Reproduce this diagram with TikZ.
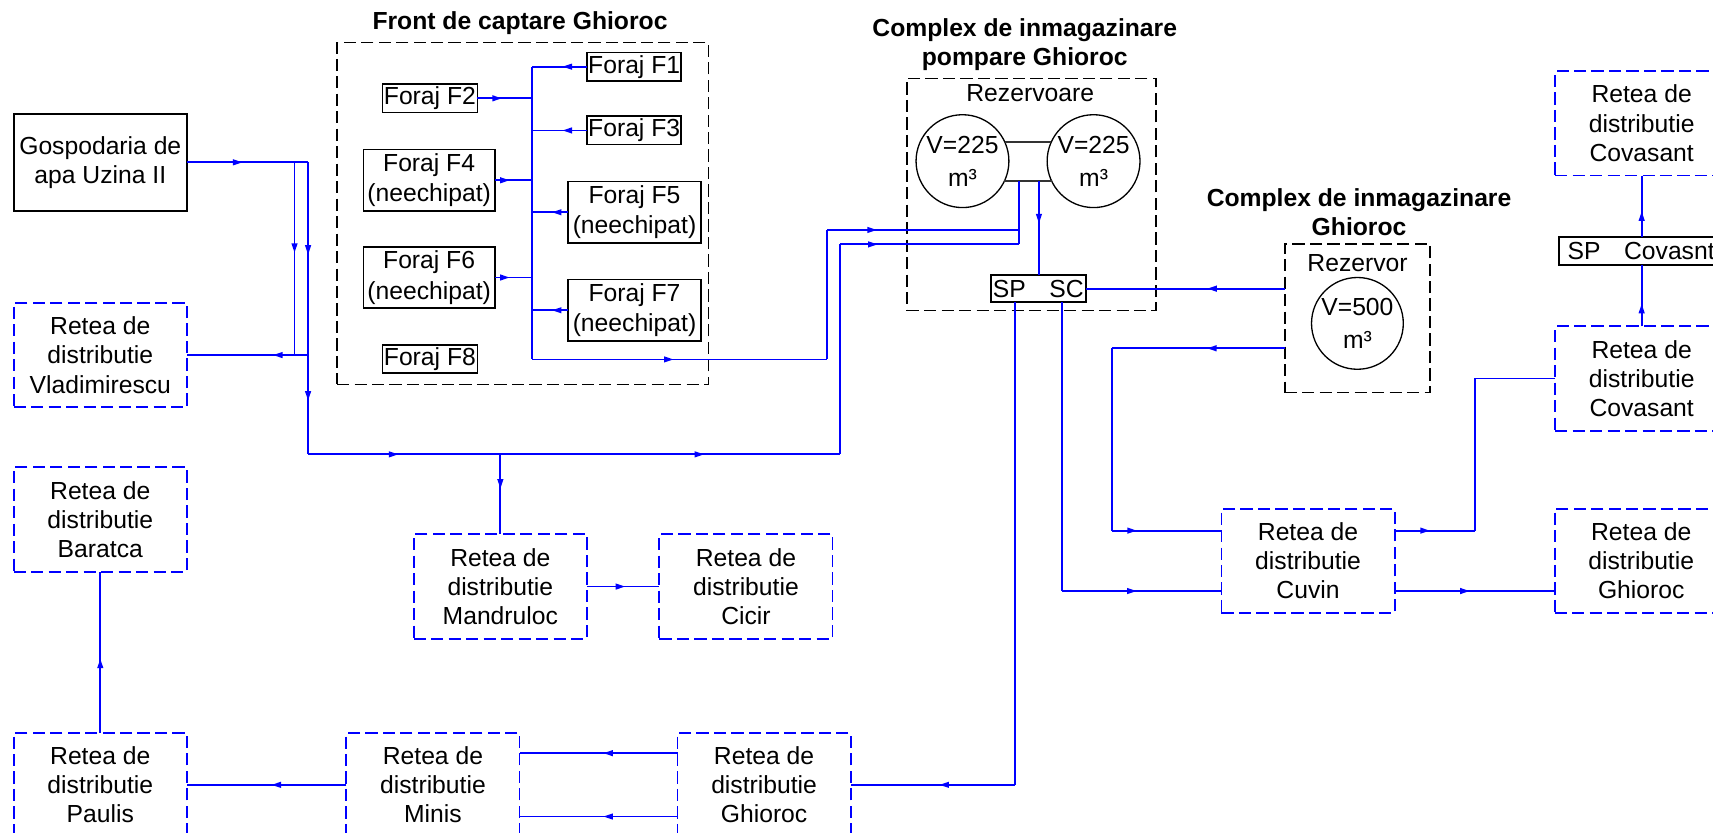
\documentclass[tikz,border=0pt]{standalone}
\usepackage{fontspec}
\setmainfont{Liberation Sans}
\usetikzlibrary{arrows.meta,decorations.markings,calc}
\newcommand\myfs{\fontsize{11.3pt}{13.4pt}\selectfont}
\begin{document}
\begin{tikzpicture}[x=0.5pt,y=-0.5pt,
  every node/.style={font=\myfs, inner sep=0pt, outer sep=0pt, align=center},
  flow/.style={draw=blue, line width=0.85pt},
  ar/.style={postaction={decorate, decoration={markings, mark=at position #1 with {\arrow[blue]{Triangle[length=4.4pt,width=2.6pt]}}}}},
  net/.style={draw=blue, line width=0.85pt, dash pattern=on 5.6pt off 2.4pt, minimum width=79.25pt, minimum height=47.75pt},
  grp/.style={draw=black, line width=0.7pt, dash pattern=on 5.6pt off 2.4pt},
  fb/.style={draw=black, line width=0.75pt, font=\fontsize{11.3pt}{14pt}\selectfont},
  tank/.style={circle, draw=black, line width=0.6pt, font=\fontsize{11.3pt}{15pt}\selectfont},
  pipe/.style={draw=black!80, line width=0.9pt},
  ttl/.style={font=\fontsize{11.3pt}{13.4pt}\selectfont\bfseries}
]
\path[use as bounding box] (0,0) rectangle (1568,762);
\clip (0,0) rectangle (1568,762);

% titles
\node[ttl] (tfront) at (476,21.4) {Front de captare Ghioroc};
\node[ttl] (tcp) at (938,41) {Complex de inmagazinare\\pompare Ghioroc};
\node[ttl] (tcg) at (1244,194) {Complex de inmagazinare\\Ghioroc};

% group boxes
\node[grp, minimum width=170.1pt, minimum height=156.4pt] (front) at (478.6,195.4) {};
\node[grp, minimum width=114pt, minimum height=106.15pt] (cpomp) at (944,177.85) {};
\node[grp, minimum width=66.5pt, minimum height=68.05pt] (rezbox) at (1242.5,291.35) {};

% left column
\node[draw=black, line width=0.75pt, minimum width=79.2pt, minimum height=44.25pt] (gosp) at (91.8,148.6) {Gospodaria de\\apa Uzina II};
\node[net] (vlad) at (91.8,325) {Retea de\\distributie\\Vladimirescu};
\node[net] (barat) at (91.8,475.5) {Retea de\\distributie\\Baratca};
\node[net] (paulis) at (91.8,718.4) {Retea de\\distributie\\Paulis};
\node[net] (minis) at (396.3,718.4) {Retea de\\distributie\\Minis};
\node[net] (ghb) at (699.4,718.4) {Retea de\\distributie\\Ghioroc};
\node[net] (mandr) at (458,536.9) {Retea de\\distributie\\Mandruloc};
\node[net] (cicir) at (682.8,536.9) {Retea de\\distributie\\Cicir};
\node[net] (cuvin) at (1197.3,513.4) {Retea de\\distributie\\Cuvin};
\node[net] (ghr) at (1502.3,513.4) {Retea de\\distributie\\Ghioroc};
\node[net] (covu) at (1502.7,112.9) {Retea de\\distributie\\Covasant};
\node[net] (covl) at (1502.7,346.5) {Retea de\\distributie\\Covasant};
\node[draw=black, line width=0.75pt, anchor=west, minimum height=12.8pt, text width=72pt, inner xsep=4pt, align=left] (spc) at (1427,229.8) {SP\hspace{0.95em}Covasnt};

% foraje
\node[fb, minimum width=43pt, minimum height=13pt] (F1) at (580.5,61) {Foraj F1};
\node[fb, minimum width=43.5pt, minimum height=13pt] (F2) at (393.5,90) {Foraj F2};
\node[fb, minimum width=43pt, minimum height=13pt] (F3) at (580.5,119.4) {Foraj F3};
\node[fb, minimum width=60.2pt, minimum height=28pt] (F4) at (392.8,165) {Foraj F4\\(neechipat)};
\node[fb, minimum width=60.8pt, minimum height=28.3pt] (F5) at (580.8,194.3) {Foraj F5\\(neechipat)};
\node[fb, minimum width=60.2pt, minimum height=28pt] (F6) at (392.8,254) {Foraj F6\\(neechipat)};
\node[fb, minimum width=60.8pt, minimum height=28.3pt] (F7) at (580.8,284) {Foraj F7\\(neechipat)};
\node[fb, minimum width=43.5pt, minimum height=13pt] (F8) at (393.5,328.7) {Foraj F8};

% tanks
\node (rzv) at (943,85) {Rezervoare};
\node[tank, minimum size=42.5pt] (tL) at (881,147.5) {V=225\\m³};
\node[tank, minimum size=42.5pt] (tR) at (1001,147.5) {V=225\\m³};
\draw[pipe] ($(tL.center)+(38.7,-17.5)$) -- ($(tR.center)+(-38.7,-17.5)$);
\draw[pipe] ($(tL.center)+(38.3,18.5)$) -- ($(tR.center)+(-38.3,18.5)$);
\node[draw=black, line width=0.75pt, minimum width=43.4pt, minimum height=12.5pt] (spsc) at (950.4,264.2) {SP\hspace{0.95em}SC};
\node (rzr) at (1242.6,241) {Rezervor};
\node[tank, minimum size=42pt] (t500) at (1242.5,296) {V=500\\m³};

% coordinates
\coordinate (pa) at (933,166);
\coordinate (pa1) at (933,210.5);
\coordinate (pa2) at (933,223.7);
\coordinate (pb) at (951,166);
\coordinate (c1) at (487,61);
\coordinate (c7) at (487,329);
\coordinate (k1) at (757,329);
\coordinate (k2) at (757,210.5);
\coordinate (g1) at (282,148.6);
\coordinate (g0) at (269.6,148.6);
\coordinate (v0) at (269.6,325);
\coordinate (v1) at (282,325);
\coordinate (b0) at (282,415.9);
\coordinate (bm) at (458,415.9);
\coordinate (b1) at (769,415.9);
\coordinate (b2) at (769,223.7);
\coordinate (s1) at (929,718.4);
\coordinate (s2) at (971.8,541);
\coordinate (r1) at (1017.6,318.8);
\coordinate (r2) at (1017.6,485.7);
\coordinate (u1) at (1350,485.7);
\coordinate (u2) at (1350,346.5);

% tank pipes
\draw[flow] (pa) -- (pa2);
\draw[flow, ar=0.45] (pb) -- (pb |- spsc.north);

% foraje collector
\draw[flow] (c1) -- (c7);
\draw[flow, ar=0.45] (F1.west) -- (F1.west -| c1);
\draw[flow, ar=0.45] (F2.east) -- (F2.east -| c1);
\draw[flow, ar=0.45] (F3.west) -- (F3.west -| c1);
\draw[flow, ar=0.4] (F4.east) -- (F4.east -| c1);
\draw[flow, ar=0.45] (F5.west) -- (F5.west -| c1);
\draw[flow, ar=0.4] (F6.east) -- (F6.east -| c1);
\draw[flow, ar=0.45] (F7.west) -- (F7.west -| c1);
\draw[flow, ar=0.48] (c7) -- (k1);
\draw[flow] (k1) -- (k2);
\draw[flow, ar=0.26] (k2) -- (pa1);

% Gospodaria network
\draw[flow, ar=0.46] (gosp.east |- g1) -- (g1);
\draw[flow, ar=0.47] (g0) -- (v0);
\draw[flow, ar=0.48] (g1) -- (v1);
\draw[flow, ar=0.46] (v1) -- (b0);
\draw[flow, ar=0.29] (v1) -- (vlad.east);
\draw[flow, ar=0.47] (b0) -- (bm);
\draw[flow, ar=0.6] (bm) -- (b1);
\draw[flow] (b1) -- (b2);
\draw[flow, ar=0.21] (b2) -- (pa2);
\draw[flow, ar=0.43] (bm) -- (mandr.north);
\draw[flow, ar=0.53] (mandr.east) -- (cicir.west);

% bottom row
\draw[flow, ar=0.46] (paulis.north) -- (barat.south);
\draw[flow, ar=0.47] (minis.west) -- (paulis.east);
\draw[flow, ar=0.47] ($(ghb.west)+(0,-29)$) -- ($(minis.east)+(0,-29)$);
\draw[flow, ar=0.47] ($(ghb.west)+(0,29)$) -- ($(minis.east)+(0,29)$);
\draw[flow] (spsc.south -| s1) -- (s1);
\draw[flow, ar=0.46] (s1) -- (ghb.east);

% SC side
\draw[flow] (spsc.south -| s2) -- (s2);
\draw[flow, ar=0.47] (s2) -- (s2 -| cuvin.west);
\draw[flow, ar=0.39] (rezbox.west |- spsc.east) -- (spsc.east);
\draw[flow, ar=0.45] (rezbox.west |- r1) -- (r1);
\draw[flow] (r1) -- (r2);
\draw[flow, ar=0.23] (r2) -- (r2 -| cuvin.west);
\draw[flow, ar=0.44] (u1 -| cuvin.east) -- (u1);
\draw[flow] (u1) -- (u2) -- (covl.west);
\draw[flow, ar=0.47] (s2 -| cuvin.east) -- (s2 -| ghr.west);

% Covasant
\draw[flow, ar=0.37] (covl.north) -- (covl.north |- spc.south);
\draw[flow, ar=0.42] (covl.north |- spc.north) -- (covu.south);
\end{tikzpicture}
\end{document}
